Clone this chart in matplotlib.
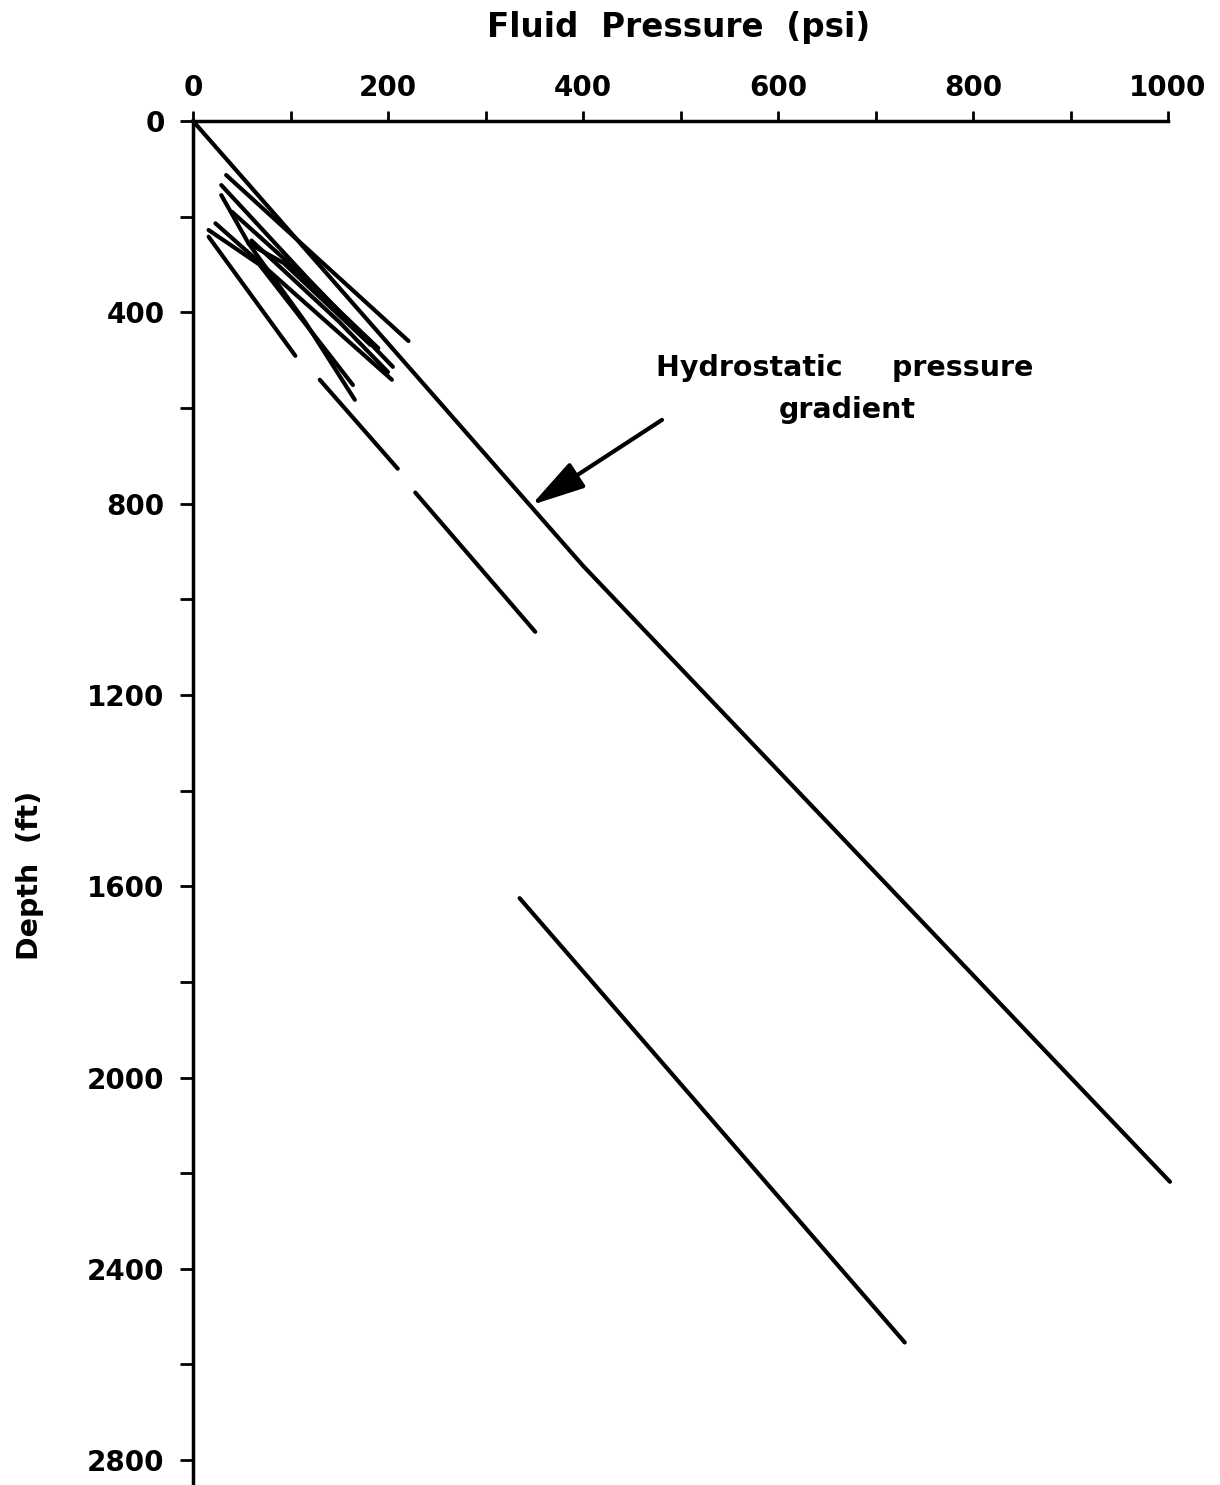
import matplotlib
matplotlib.use('Agg')
import matplotlib.pyplot as plt
from matplotlib.ticker import MultipleLocator

plt.rcParams['font.family'] = ['DejaVu Sans']
plt.rcParams['font.weight'] = 'bold'

# 静水压力梯度线
hydro_psi = [0, 400, 1002]
hydro_ft = [0, 930, 2218]

# 浅部井群
w1_psi = [34, 221]
w1_ft = [113, 460]
w2_psi = [29, 118, 205]
w2_ft = [134, 330, 514]
w3_psi = [29, 57, 93, 182]
w3_ft = [155, 256, 297, 468]
w4_psi = [23, 204]
w4_ft = [214, 541]
w5_psi = [16, 68, 164]
w5_ft = [228, 300, 552]
w6_psi = [16, 105]
w6_ft = [242, 491]
w7_psi = [57, 115, 166]
w7_ft = [256, 420, 583]
w8_psi = [40, 100, 190]
w8_ft = [190, 300, 475]
w9_psi = [60, 150, 200]
w9_ft = [250, 420, 525]

# 较深的线段
seg1_psi = [130, 210]
seg1_ft = [541, 727]
seg2_psi = [228, 351]
seg2_ft = [777, 1068]
seg3_psi = [335, 730]
seg3_ft = [1625, 2554]

wells = [(w1_psi, w1_ft), (w2_psi, w2_ft), (w3_psi, w3_ft), (w4_psi, w4_ft),
         (w5_psi, w5_ft), (w6_psi, w6_ft), (w7_psi, w7_ft), (w8_psi, w8_ft),
         (w9_psi, w9_ft), (seg1_psi, seg1_ft), (seg2_psi, seg2_ft), (seg3_psi, seg3_ft)]

fig = plt.figure(figsize=(12.2, 14.85), dpi=100)
ax = fig.add_axes([193 / 1220, 0, 975 / 1220, 1364 / 1485])
ax.set_xlim(0, 1000)
ax.set_ylim(2852, 0)

line_kw = dict(color='black', linewidth=3, solid_capstyle='round', solid_joinstyle='round', clip_on=False)
ax.plot(hydro_psi, hydro_ft, **line_kw)
for p, d in wells:
    ax.plot(p, d, **line_kw)

# 坐标轴样式
ax.spines['right'].set_visible(False)
ax.spines['bottom'].set_visible(False)
ax.spines['top'].set_linewidth(2.5)
ax.spines['left'].set_linewidth(2.5)

ax.xaxis.tick_top()
ax.xaxis.set_major_locator(MultipleLocator(200))
ax.xaxis.set_minor_locator(MultipleLocator(100))
ax.yaxis.set_major_locator(MultipleLocator(400))
ax.yaxis.set_minor_locator(MultipleLocator(200))
ax.tick_params(axis='x', which='both', direction='out', length=7.5, width=2, pad=6, labelsize=20)
ax.tick_params(axis='y', which='both', direction='out', length=9.5, width=2, pad=11, labelsize=20)
for lab in ax.get_xticklabels() + ax.get_yticklabels():
    lab.set_fontweight('bold')

fig.text(678.5 / 1220, 1 - 27 / 1485, 'Fluid  Pressure  (psi)', ha='center', va='center',
         fontsize=23.5, fontweight='bold')
fig.text(30 / 1220, 1 - 875 / 1485, 'Depth  (ft)', ha='center', va='center', rotation=90,
         fontsize=20.5, fontweight='bold')

# 标注
ax.text(668, 533, 'Hydrostatic     pressure', ha='center', va='baseline', fontsize=20.5, fontweight='bold')
ax.text(671, 621, 'gradient', ha='center', va='baseline', fontsize=20.5, fontweight='bold')
ax.annotate('', xy=(347, 803), xytext=(481, 625),
            arrowprops=dict(arrowstyle='-|>,head_length=1.1,head_width=0.3', color='black',
                            lw=3, mutation_scale=30, shrinkA=0, shrinkB=0))

fig.savefig('out.png', dpi=100)
